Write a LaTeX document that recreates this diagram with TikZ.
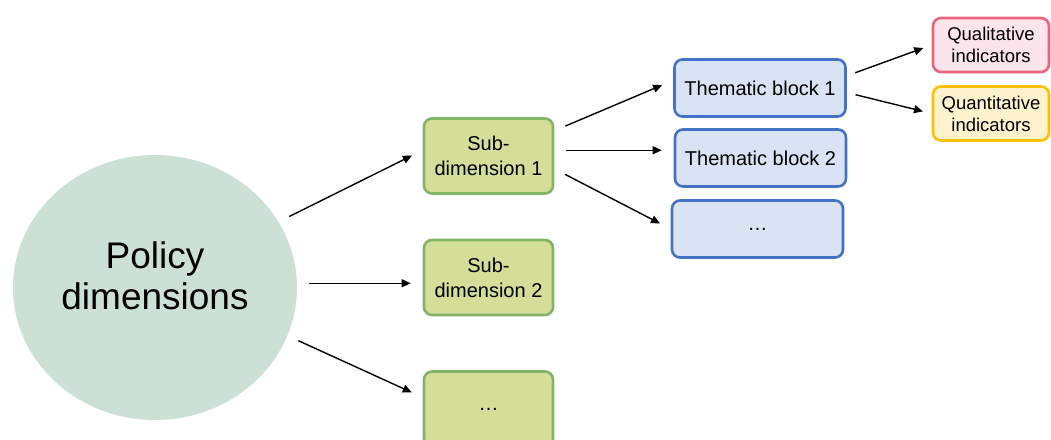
\documentclass[tikz,border=0pt]{standalone}
\usepackage{fontspec}
\setmainfont{Liberation Sans}
\usepackage{tikz}
\usetikzlibrary{shapes.geometric,arrows.meta}

\definecolor{circfill}{HTML}{CDE0D6}
\definecolor{subfill}{HTML}{D4DE98}
\definecolor{subdraw}{HTML}{82B366}
\definecolor{blkfill}{HTML}{DAE3F3}
\definecolor{blkdraw}{HTML}{4472C4}
\definecolor{qualfill}{HTML}{FCE4EC}
\definecolor{qualdraw}{HTML}{EA647D}
\definecolor{quantfill}{HTML}{FFF2CC}
\definecolor{quantdraw}{HTML}{FFC000}

\begin{document}
\begin{tikzpicture}[
  x=1pt, y=-1pt,
  box/.style={draw, rounded corners=8pt, line width=2.6pt, align=center,
              inner sep=2pt},
  sub/.style={box, fill=subfill, draw=subdraw, minimum width=129pt,
              minimum height=75pt, font=\fontsize{20}{25}\selectfont},
  blk/.style={box, fill=blkfill, draw=blkdraw, minimum width=171pt,
              minimum height=57pt, font=\fontsize{20}{24}\selectfont},
  ind/.style={box, minimum width=116pt, minimum height=54pt,
              font=\fontsize{18.5}{22}\selectfont},
  arr/.style={-{Triangle[length=9pt,width=8pt]}, line width=1.4pt,
              shorten <=12pt, shorten >=12pt},
]
\useasboundingbox (0,0) rectangle (1051,439);
% Root
\node[ellipse, fill=circfill, minimum width=284pt, minimum height=265pt,
      align=center, text depth=24pt, font=\fontsize{37}{41}\selectfont]
  (pd) at (155,287.5) {Policy\\dimensions};
% Sub-dimensions
\node[sub] (sd1) at (488.5,156)   {Sub-\\dimension 1};
\node[sub] (sd2) at (488.5,277.5) {Sub-\\dimension 2};
\node[sub] (sd3) at (488.5,409)   {\dots};
% Thematic blocks
\node[blk] (tb1) at (760,88)    {Thematic block 1};
\node[blk] (tb2) at (760.5,158) {Thematic block 2};
\node[blk] (tb3) at (757.5,229) {\dots};
% Indicators
\node[ind, fill=qualfill, draw=qualdraw]   (qual)  at (991,45)    {Qualitative\\indicators};
\node[ind, fill=quantfill, draw=quantdraw] (quant) at (991,113.5) {Quantitative\\indicators};
% Edges
\draw[arr] (pd.28) -- (sd1.175);
\draw[arr] (pd.east |- sd2.185) -- (sd2.185);
\draw[arr] (pd.-20) -- (sd3.170);
\draw[arr] (sd1.21) -- (tb1.175);
\draw[arr] (sd1.5) -- (sd1.5 -| tb2.west);
\draw[arr] (sd1.-11) -- (tb3.west);
\draw[arr, shorten <=9pt, shorten >=9pt] (tb1.8)  -- (qual.west);
\draw[arr, shorten <=9pt, shorten >=9pt] (tb1.-3) -- (quant.west);
\end{tikzpicture}
\end{document}
